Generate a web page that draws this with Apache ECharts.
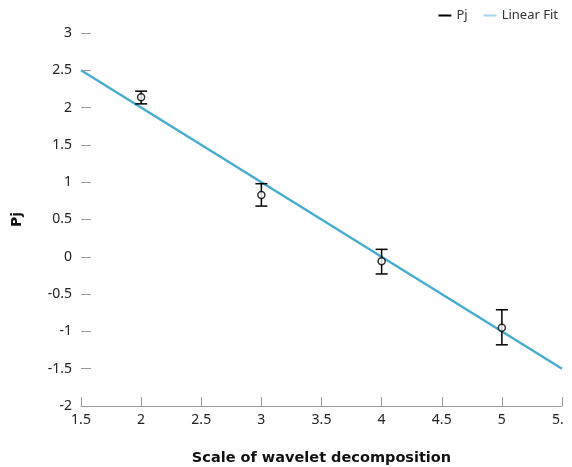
<!DOCTYPE html>
<html>
<head>
<meta charset="utf-8">
<script src="https://cdn.jsdelivr.net/npm/echarts@6/dist/echarts.min.js"></script>
<style>
  html, body { margin: 0; padding: 0; background: #fff; }
  #chart { width: 563px; height: 467px; }
</style>
</head>
<body>
<div id="chart"></div>
<script>
// Wavelet scales and measured Pj with error range
const scales = [2, 3, 4, 5];
const pjValues = [2.14, 0.83, -0.06, -0.95];
const pjLow = [2.05, 0.68, -0.23, -1.18];
const pjHigh = [2.22, 0.98, 0.10, -0.71];

// Linear fit end points
const fitX = [1.5, 5.5];
const fitY = [2.5, -1.5];

const xTicks = { min: 1.5, max: 5.5, step: 0.5 };
const yTicks = { min: -2, max: 3, step: 0.5 };

const FONT = '"Noto Sans", sans-serif';
const TITLE_FONT = '"DejaVu Sans", sans-serif';
const fitColor = '#47acd0';

const chart = echarts.init(document.getElementById('chart'));

const errData = scales.map((x, i) => [x, pjLow[i], pjHigh[i]]);
const pointData = scales.map((x, i) => [x, pjValues[i]]);
const fitData = fitX.map((x, i) => [x, fitY[i]]);

chart.setOption({
  animation: false,
  textStyle: { fontFamily: FONT },
  grid: { left: 81, right: 1, top: 33, bottom: 61, outerBoundsMode: 'none' },
  legend: {
    right: 0,
    top: 4,
    itemWidth: 13,
    itemHeight: 2,
    itemGap: 16,
    textStyle: { fontFamily: FONT, fontSize: 13, color: '#333' },
    data: [
      { name: 'Pj', icon: 'rect', itemStyle: { color: '#000' } },
      { name: 'Linear Fit', icon: 'rect', itemStyle: { color: '#a3d6ea' } }
    ]
  },
  xAxis: {
    type: 'value',
    min: xTicks.min,
    max: xTicks.max,
    interval: xTicks.step,
    name: 'Scale of wavelet decomposition',
    nameLocation: 'middle',
    nameGap: 45,
    nameTextStyle: { fontFamily: TITLE_FONT, fontSize: 14.5, fontWeight: 'bold', color: '#111' },
    axisLine: { onZero: false, lineStyle: { color: '#999', width: 1 } },
    axisTick: { inside: true, length: 9, lineStyle: { color: '#999' } },
    axisLabel: { fontFamily: FONT, fontSize: 14, color: '#222', margin: 7 },
    splitLine: { show: false }
  },
  yAxis: {
    type: 'value',
    min: yTicks.min,
    max: yTicks.max,
    interval: yTicks.step,
    name: 'Pj',
    nameLocation: 'middle',
    nameGap: 57,
    nameRotate: 90,
    nameTextStyle: { fontFamily: TITLE_FONT, fontSize: 14, fontWeight: 'bold', color: '#111' },
    axisLine: { show: false, onZero: false },
    axisTick: { show: true, inside: true, length: 10, lineStyle: { color: '#999' } },
    axisLabel: { fontFamily: FONT, fontSize: 14, color: '#222', margin: 9 },
    splitLine: { show: false }
  },
  series: [
    {
      name: 'Linear Fit',
      type: 'line',
      data: fitData,
      showSymbol: false,
      lineStyle: { color: fitColor, width: 2.5 },
      itemStyle: { color: fitColor },
      z: 2
    },
    {
      name: 'Pj',
      type: 'custom',
      data: errData,
      z: 3,
      renderItem: function (params, api) {
        const x = api.value(0);
        const lo = api.coord([x, api.value(1)]);
        const hi = api.coord([x, api.value(2)]);
        const half = 6;
        const style = { stroke: '#000', lineWidth: 1.5 };
        return {
          type: 'group',
          children: [
            { type: 'line', shape: { x1: lo[0], y1: lo[1], x2: hi[0], y2: hi[1] }, style: style },
            { type: 'line', shape: { x1: lo[0] - half, y1: lo[1], x2: lo[0] + half, y2: lo[1] }, style: style },
            { type: 'line', shape: { x1: hi[0] - half, y1: hi[1], x2: hi[0] + half, y2: hi[1] }, style: style }
          ]
        };
      }
    },
    {
      name: 'Pj',
      type: 'scatter',
      data: pointData,
      symbol: 'circle',
      symbolSize: 7,
      itemStyle: { color: '#fff', borderColor: '#000', borderWidth: 1.5 },
      z: 4
    }
  ]
});
</script>
</body>
</html>
